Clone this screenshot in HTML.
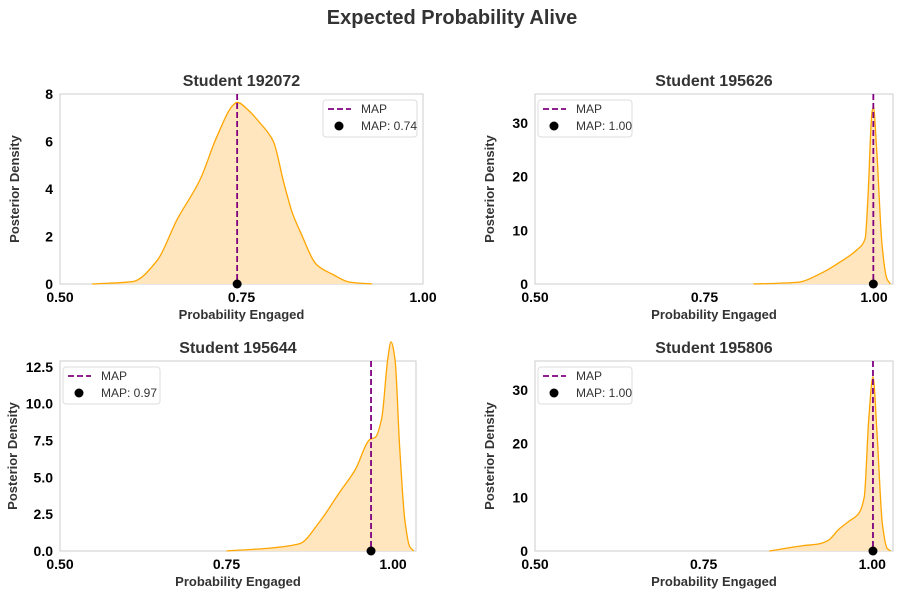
<!DOCTYPE html>
<html><head><meta charset="utf-8"><style>
body{margin:0;background:#fff;width:904px;height:598px;overflow:hidden}
svg{font-family:"Liberation Sans",Arial,sans-serif}
</style></head><body>
<svg id="c" width="904" height="598" xmlns="http://www.w3.org/2000/svg">
<text x="452" y="24" text-anchor="middle" font-size="20" font-weight="bold" fill="#333">Expected Probability Alive</text>
</svg>
<script>
const titles=["Student 192072","Student 195626","Student 195644","Student 195806"];
const x1=[0.544,0.60,0.634,0.661,0.693,0.716,0.739,0.744,0.76,0.775,0.794,0.808,0.82,0.831,0.854,0.876,0.899,0.93];
const y1=[0,0.1,1.0,2.7,4.4,6.2,7.55,7.65,7.3,6.8,6.0,4.3,3.0,2.2,0.8,0.4,0.08,0];
const x2=[0.822,0.886,0.925,0.95,0.975,0.987,0.991,0.997,0.999,1.004,1.012,1.019,1.024];
const y2=[0,0.3,2.2,4.1,6.4,8.5,16,32,33,25,7,1,0];
const x3=[0.75,0.815,0.86,0.89,0.92,0.943,0.966,0.973,0.983,0.992,0.997,1.003,1.01,1.018,1.025,1.031];
const y3=[0,0.2,0.5,2.0,4.0,5.5,7.6,7.7,9,13,14.2,13,7,2,0.3,0];
const x4=[0.847,0.898,0.92,0.935,0.95,0.965,0.98,0.988,0.995,1.001,1.007,1.015,1.022,1.027];
const y4=[0,1,1.3,2,4,5.5,7,10,25,32.5,22,5,0.5,0];
const maps=[0.744,0.999,0.967,1.001];
const mapLabels=["MAP: 0.74","MAP: 1.00","MAP: 0.97","MAP: 1.00"];
const xTicks=[0.5,0.75,1.0];
const xTickLabels=["0.50","0.75","1.00"];
const yTicks=[[0,2,4,6,8],[0,10,20,30],[0,2.5,5,7.5,10,12.5],[0,10,20,30]];
const yTickLabels=[["0","2","4","6","8"],["0","10","20","30"],["0.0","2.5","5.0","7.5","10.0","12.5"],["0","10","20","30"]];
const xs=[x1,x2,x3,x4], ys=[y1,y2,y3,y4];
const panels=[
 {l:60,r:423,t:94,b:284,xmax:1.0,ymax:8,lg:[323,100]},
 {l:535,r:893,t:94,b:284,xmax:1.028,ymax:35.4,lg:[538,100]},
 {l:60,r:416,t:361,b:551,xmax:1.0345,ymax:12.9,lg:[63,367]},
 {l:535,r:893,t:361,b:551,xmax:1.0307,ymax:35.4,lg:[538,367]}];
const svg=document.getElementById('c');const NS="http://www.w3.org/2000/svg";
function mk(tag,at,txt,parent){const e=document.createElementNS(NS,tag);for(const k in at)e.setAttribute(k,at[k]);if(txt!=null)e.textContent=txt;(parent||svg).appendChild(e);return e;}
// monotone cubic path in pixel space
function monoPath(P){
 const n=P.length;const dx=[],m=[],t=[];
 for(let i=0;i<n-1;i++){dx[i]=P[i+1][0]-P[i][0];m[i]=(P[i+1][1]-P[i][1])/dx[i];}
 t[0]=m[0];t[n-1]=m[n-2];
 for(let i=1;i<n-1;i++){t[i]=(m[i-1]*m[i]<=0)?0:3*(dx[i-1]+dx[i])/((2*dx[i]+dx[i-1])/m[i-1]+(dx[i]+2*dx[i-1])/m[i]);}
 let d='M'+P[0][0].toFixed(1)+','+P[0][1].toFixed(1);
 for(let i=0;i<n-1;i++){const h=dx[i]/3;
  d+=` C${(P[i][0]+h).toFixed(1)},${(P[i][1]+t[i]*h).toFixed(1)} ${(P[i+1][0]-h).toFixed(1)},${(P[i+1][1]-t[i+1]*h).toFixed(1)} ${P[i+1][0].toFixed(1)},${P[i+1][1].toFixed(1)}`;}
 return d;}
panels.forEach((p,i)=>{
 const g=mk('g',{});
 
 
 const sx=v=>p.l+(v-0.5)/(p.xmax-0.5)*(p.r-p.l);
 const sy=v=>p.b-v/p.ymax*(p.b-p.t);
 const fr=mk('rect',{x:p.l,y:p.t,width:p.r-p.l,height:p.b-p.t,fill:'none',stroke:'#ccc','stroke-width':1},null,g);
 
 
 const tt=mk('text',{x:(p.l+p.r)/2,y:p.t-8,'text-anchor':'middle','font-size':16,'font-weight':'bold',fill:'#333'},titles[i],g);
 
 
 const P=xs[i].map((v,j)=>[sx(v),sy(ys[i][j])]);
 const ld=monoPath(P);
 const area=mk('path',{d:ld+` L${P[P.length-1][0]},${sy(0)} L${P[0][0]},${sy(0)} Z`,fill:'#ffe6bf',stroke:'none'},null,g);
 
 
 const ln=mk('path',{d:ld,fill:'none',stroke:'orange','stroke-width':1.3},null,g);
 
 
 const ml=mk('line',{x1:sx(maps[i]),x2:sx(maps[i]),y1:p.t,y2:p.b,stroke:'purple','stroke-width':1.8,'stroke-dasharray':'6,3'},null,g);
 
 
 const dot=mk('circle',{cx:sx(maps[i]),cy:p.b,r:4.5,fill:'#000'},null,g);
 
 
 xTicks.forEach((v,j)=>{
  const t=mk('text',{x:sx(v),y:p.b+18,'text-anchor':'middle','font-size':14,'font-weight':'bold',fill:'#000'},xTickLabels[j],g);
  
  
 });
 yTicks[i].forEach((v,j)=>{
  const t=mk('text',{x:p.l-7,y:sy(v)+5,'text-anchor':'end','font-size':14,'font-weight':'bold',fill:'#000'},yTickLabels[i][j],g);
  
  
 });
 const xl=mk('text',{x:(p.l+p.r)/2,y:p.b+35,'text-anchor':'middle','font-size':13,'font-weight':'bold',fill:'#333'},'Probability Engaged',g);
 
 
 const yx=i==2?17:(p.l-41);
 const yl=mk('text',{x:yx,y:(p.t+p.b)/2,'text-anchor':'middle','font-size':13,'font-weight':'bold',fill:'#333',transform:`rotate(-90 ${yx} ${(p.t+p.b)/2})`},'Posterior Density',g);
 
 
 const [lx,ly]=p.lg;const lw=i==2?97:94;
 const lg=mk('g',{},null,g);
 
 
 mk('rect',{x:lx,y:ly,width:lw,height:37,rx:3,fill:'#fff',stroke:'#ddd'},null,lg);
 mk('line',{x1:lx+5,x2:lx+28,y1:ly+9,y2:ly+9,stroke:'purple','stroke-width':1.8,'stroke-dasharray':'6,3'},null,lg);
 mk('text',{x:lx+38,y:ly+13,'font-size':12,fill:'#333'},'MAP',lg);
 mk('circle',{cx:lx+16,cy:ly+26,r:4.5,fill:'#000'},null,lg);
 mk('text',{x:lx+38,y:ly+30,'font-size':12,fill:'#333'},mapLabels[i],lg);
});
</script>
</body></html>
